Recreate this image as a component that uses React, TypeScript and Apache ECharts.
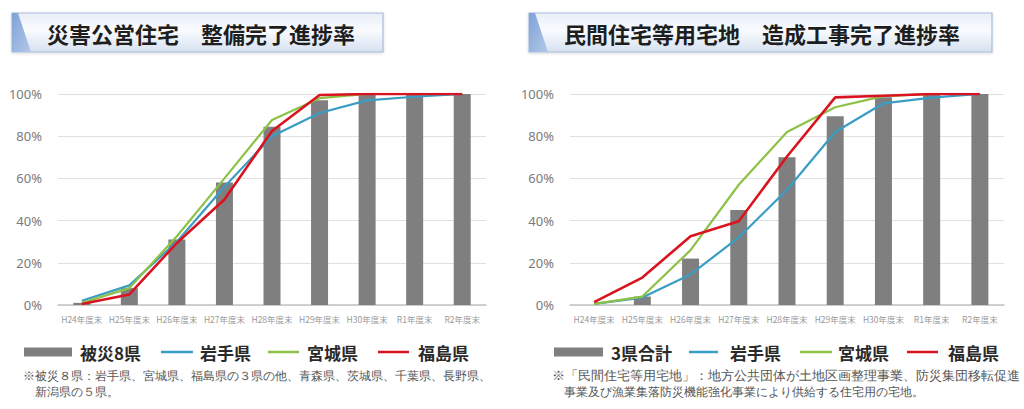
import React, { useEffect, useRef } from "react";
import * as echarts from "echarts";

const categories = ["H24年度末", "H25年度末", "H26年度末", "H27年度末", "H28年度末", "H29年度末", "H30年度末", "R1年度末", "R2年度末"];

const leftTitle = "災害公営住宅　整備完了進捗率";
const leftTotal = [1, 8, 31, 58, 84.5, 97, 99.5, 99.5, 100];
const leftIwate = [2, 9.3, 30, 56, 80, 91, 97, 98.7, 100];
const leftMiyagi = [1, 8, 32.6, 60, 87.7, 98, 100, 100, 100];
const leftFukushima = [0.5, 5, 29.4, 50, 82.5, 99.5, 100, 100, 100];

const rightTitle = "民間住宅等用宅地　造成工事完了進捗率";
const rightTotal = [0, 4, 22, 45, 70, 89.5, 98.5, 99.5, 100];
const rightIwate = [0.5, 3.5, 14.5, 32, 54.6, 82, 95.6, 98.3, 100];
const rightMiyagi = [0.5, 4, 26, 57, 82, 93.7, 99, 100, 100];
const rightFukushima = [1.4, 13, 32.6, 39.7, 70.4, 98.4, 99.2, 100, 100];

const leftLegendNames = ["被災8県", "岩手県", "宮城県", "福島県"];
const rightLegendNames = ["3県合計", "岩手県", "宮城県", "福島県"];

const leftNote1 = "※被災８県：岩手県、宮城県、福島県の３県の他、青森県、茨城県、千葉県、長野県、";
const leftNote2 = "新潟県の５県。";
const rightNote1 = "※「民間住宅等用宅地」：地方公共団体が土地区画整理事業、防災集団移転促進";
const rightNote2 = "事業及び漁業集落防災機能強化事業により供給する住宅用の宅地。";

const yTicks = { min: 0, max: 100, interval: 20 };

const C_BAR = "#7f7f7f";
const C_BLUE = "#3a9dc4";
const C_GREEN = "#8dc145";
const C_RED = "#d91420";
const FONT = "'Noto Sans CJK JP', 'Noto Sans', sans-serif";

function titleBox(x: number, w: number, text: string, textX: number) {
  return [
    {
      type: "rect",
      shape: { x, y: 13, width: w, height: 39 },
      style: {
        fill: new echarts.graphic.LinearGradient(0, 0, 0, 1, [
          { offset: 0, color: "#e9eef7" },
          { offset: 0.45, color: "#f9fbfe" },
          { offset: 1, color: "#d6e1f0" },
        ]),
        stroke: "#a9bcd8",
        lineWidth: 1.2,
        shadowBlur: 3,
        shadowColor: "rgba(0,0,0,0.15)",
        shadowOffsetY: 1,
      },
    },
    {
      type: "polygon",
      shape: { points: [[x, 13], [x + 6, 13], [x + 19, 52], [x, 52]] },
      style: {
        fill: new echarts.graphic.LinearGradient(0, 0, 1, 1, [
          { offset: 0, color: "#7ea2d6" },
          { offset: 1, color: "#b3c9e9" },
        ]),
      },
    },
    {
      type: "text",
      x: textX,
      y: 33,
      style: {
        text,
        fill: "#1e1e1e",
        font: `bold 22px ${FONT}`,
        verticalAlign: "middle",
      },
    },
  ];
}

function legendGroup(
  names: string[],
  rect: [number, number],
  lines: [number, number][],
  textXs: number[]
) {
  const y = 352;
  const els: any[] = [
    { type: "rect", shape: { x: rect[0], y: y - 4.5, width: rect[1] - rect[0], height: 9 }, style: { fill: C_BAR } },
  ];
  const colors = [C_BLUE, C_GREEN, C_RED];
  lines.forEach((l, i) => {
    els.push({
      type: "line",
      shape: { x1: l[0], y1: y, x2: l[1], y2: y },
      style: { stroke: colors[i], lineWidth: 2.5 },
    });
  });
  names.forEach((n, i) => {
    els.push({
      type: "text",
      x: textXs[i],
      y,
      style: { text: n, fill: "#2a2a2a", font: `bold 17px ${FONT}`, verticalAlign: "middle" },
    });
  });
  return els;
}

function note(x: number, y: number, text: string, size: number) {
  return {
    type: "text",
    x,
    y,
    style: { text, fill: "#555", font: `${size}px ${FONT}`, fontSize: size, lineHeight: 14, verticalAlign: "middle" },
  };
}

export default function App() {
  const ref = useRef<HTMLDivElement>(null);
  useEffect(() => {
    document.body.style.margin = "0";
    if (!ref.current) return;
    const chart = echarts.init(ref.current, undefined, { renderer: "svg" });
    const xAxisBase = (gridIndex: number) => ({
      type: "category",
      gridIndex,
      data: categories,
      axisTick: { show: false },
      axisLine: { lineStyle: { color: "#c4c4c4", width: 1.5 } },
      axisLabel: { color: "#999", fontSize: 8.5, fontFamily: FONT, margin: 10, interval: 0 },
    });
    const yAxisBase = (gridIndex: number) => ({
      type: "value",
      gridIndex,
      ...yTicks,
      axisLine: { show: false },
      axisTick: { show: false },
      splitLine: { lineStyle: { color: "#e0e0e0", width: 1 } },
      axisLabel: { formatter: "{value}%", color: "#7a7a7a", fontSize: 13, fontFamily: "'Noto Sans', sans-serif", margin: 16 },
    });
    const lineSeries = (name: string, data: number[], color: string, idx: number, width: number) => ({
      name,
      type: "line",
      data,
      xAxisIndex: idx,
      yAxisIndex: idx,
      symbol: "none",
      lineStyle: { color, width },
      itemStyle: { color },
      z: 3,
    });
    chart.setOption({
      animation: false,
      grid: [
        { left: 58, right: 538, top: 94, bottom: 104 },
        { left: 570, right: 20, top: 94, bottom: 104 },
      ],
      xAxis: [xAxisBase(0), xAxisBase(1)],
      yAxis: [yAxisBase(0), yAxisBase(1)],
      series: [
        { name: leftLegendNames[0], type: "bar", data: leftTotal, xAxisIndex: 0, yAxisIndex: 0, barWidth: 17, itemStyle: { color: C_BAR } },
        lineSeries(leftLegendNames[1], leftIwate, C_BLUE, 0, 2.2),
        lineSeries(leftLegendNames[2], leftMiyagi, C_GREEN, 0, 2.2),
        lineSeries(leftLegendNames[3], leftFukushima, C_RED, 0, 2.6),
        { name: rightLegendNames[0], type: "bar", data: rightTotal, xAxisIndex: 1, yAxisIndex: 1, barWidth: 17, itemStyle: { color: C_BAR } },
        lineSeries(rightLegendNames[1], rightIwate, C_BLUE, 1, 2.2),
        lineSeries(rightLegendNames[2], rightMiyagi, C_GREEN, 1, 2.2),
        lineSeries(rightLegendNames[3], rightFukushima, C_RED, 1, 2.6),
      ],
      graphic: [
        ...titleBox(12, 371, leftTitle, 47),
        ...titleBox(529, 463, rightTitle, 564),
        ...legendGroup(leftLegendNames, [24, 72], [[161, 193], [268, 299], [378, 409]], [80, 200, 307, 418]),
        ...legendGroup(rightLegendNames, [554, 603], [[689, 718], [800, 832], [907, 938]], [611, 730, 838, 948]),
        note(23, 376, leftNote1, 12),
        note(35, 392, leftNote2, 12),
        note(552, 376, rightNote1, 12.5),
        note(564, 392, rightNote2, 12.2),
      ],
    });
    return () => chart.dispose();
  }, []);
  return <div ref={ref} style={{ width: 1024, height: 409 }} />;
}
